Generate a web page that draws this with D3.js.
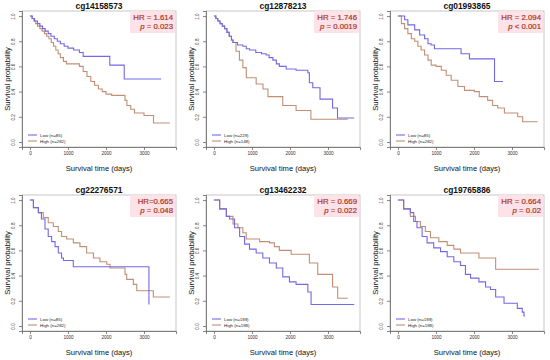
<!DOCTYPE html>
<html><head><meta charset="utf-8">
<script src="https://cdn.jsdelivr.net/npm/d3@7"></script>
<style>body{margin:0;background:#fff}svg{display:block}</style>
</head><body>
<script>
// ---- data ----
const probes = ["cg14158573","cg12878213","cg01993865","cg22276571","cg13462232","cg19765886"];
const hrLabels = ["HR = 1.614","HR = 1.746","HR = 2.094","HR=0.665","HR = 0.669","HR = 0.664"];
const pLabels = ["= 0.023","= 0.0019","< 0.001","= 0.048","= 0.022","= 0.02"];
const lowN = [85,229,85,85,189,189];
const highN = [282,148,282,282,188,188];
const xTicks = [0,1000,2000,3000];
const yTicks = [0,0.2,0.4,0.6,0.8,1.0];

// step curves: [time (days), survival after drop]; last point = end of follow-up
const low1 = [[0,1],[60,0.98],[120,0.96],[200,0.94],[260,0.92],[330,0.90],[400,0.88],[480,0.86],[550,0.84],[640,0.82],[720,0.80],[800,0.78],[900,0.76],[1000,0.745],[1150,0.73],[1300,0.71],[1400,0.68],[2100,0.61],[2480,0.50],[3450,0.50]];
const high1 = [[0,1],[50,0.98],[100,0.96],[150,0.94],[200,0.92],[260,0.90],[320,0.88],[380,0.86],[440,0.84],[500,0.82],[560,0.79],[620,0.76],[680,0.73],[740,0.70],[800,0.67],[880,0.64],[960,0.62],[1300,0.60],[1400,0.56],[1500,0.52],[1600,0.48],[1700,0.45],[1800,0.42],[1900,0.40],[2000,0.38],[2150,0.37],[2500,0.33],[2550,0.29],[2650,0.26],[2750,0.23],[3000,0.21],[3250,0.15],[3680,0.15]];
const low2 = [[0,1],[50,0.98],[100,0.96],[160,0.94],[220,0.92],[280,0.90],[340,0.87],[400,0.84],[460,0.81],[500,0.79],[620,0.77],[760,0.76],[850,0.74],[935,0.73],[1100,0.71],[1250,0.70],[1370,0.69],[1450,0.67],[1550,0.65],[1640,0.62],[1720,0.60],[1900,0.58],[2160,0.57],[2470,0.55],[2510,0.47],[2600,0.43],[2790,0.34],[3120,0.27],[3250,0.19],[3690,0.19]];
const high2 = [[0,1],[50,0.98],[100,0.96],[160,0.94],[220,0.92],[280,0.90],[340,0.87],[400,0.84],[460,0.81],[500,0.79],[580,0.72],[670,0.65],[760,0.59],[850,0.51],[1110,0.46],[1290,0.42],[1420,0.36],[1810,0.29],[2160,0.25],[2550,0.18],[3520,0.18]];
const low3 = [[0,1],[175,0.97],[260,0.93],[440,0.89],[570,0.85],[700,0.82],[790,0.78],[870,0.77],[960,0.74],[1660,0.70],[1880,0.66],[2540,0.48],[2760,0.48]];
const high3 = [[0,1],[90,0.94],[175,0.90],[260,0.86],[350,0.82],[440,0.80],[525,0.76],[610,0.73],[700,0.69],[790,0.65],[875,0.61],[1000,0.60],[1140,0.57],[1270,0.53],[1400,0.49],[1575,0.44],[1750,0.41],[2010,0.40],[2140,0.36],[2360,0.33],[2490,0.29],[2625,0.27],[2800,0.23],[3150,0.20],[3280,0.16],[3675,0.16]];
const low4 = [[0,1],[90,0.94],[220,0.90],[300,0.85],[395,0.77],[480,0.71],[570,0.67],[660,0.63],[745,0.58],[830,0.54],[880,0.52],[1140,0.47],[3130,0.17]];
const high4 = [[0,1],[90,0.94],[220,0.90],[350,0.86],[480,0.82],[615,0.79],[745,0.75],[830,0.71],[965,0.69],[1140,0.66],[1315,0.63],[1490,0.58],[1670,0.54],[1840,0.51],[2020,0.49],[2105,0.46],[2500,0.41],[2545,0.37],[2720,0.33],[2810,0.28],[3245,0.23],[3680,0.23]];
const low5 = [[0,1],[150,0.93],[325,0.87],[410,0.85],[540,0.78],[675,0.71],[805,0.65],[935,0.61],[1110,0.58],[1285,0.54],[1460,0.50],[1640,0.46],[1810,0.39],[1985,0.35],[2160,0.33],[2470,0.27],[2555,0.17],[3690,0.17]];
const high5 = [[0,1],[150,0.93],[325,0.87],[500,0.81],[630,0.78],[760,0.74],[850,0.69],[1200,0.67],[1460,0.66],[1590,0.63],[1720,0.60],[2030,0.57],[2510,0.50],[2730,0.41],[3120,0.31],[3255,0.22],[3520,0.22]];
const low6 = [[0,1],[150,0.93],[325,0.90],[415,0.83],[500,0.78],[635,0.71],[765,0.66],[940,0.62],[1120,0.59],[1295,0.55],[1470,0.51],[1645,0.48],[1775,0.41],[1910,0.38],[2130,0.35],[2305,0.31],[2435,0.29],[2570,0.23],[2790,0.18],[3140,0.14],[3270,0.11],[3315,0.08],[3340,0.08]];
const high6 = [[0,1],[150,0.93],[325,0.87],[460,0.83],[590,0.79],[720,0.75],[855,0.70],[1075,0.67],[1295,0.64],[1470,0.61],[1645,0.58],[2130,0.54],[2570,0.45],[3710,0.45]];
const lowCurves = [low1,low2,low3,low4,low5,low6];
const highCurves = [high1,high2,high3,high4,high5,high6];

// ---- drawing ----
const W = 550, H = 360;
const colLow = "#7368e6", colHigh = "#c28f76", hrCol = "#a8361f";
const svg = d3.select("body").append("svg").attr("width", W).attr("height", H)
  .style("font-family", "'Liberation Sans', Arial, sans-serif");

const colOff = [0, 184, 368], rowOff = [0, 184];
const x = d3.scaleLinear().domain([-210, 3842]).range([22, 176]);
const y = d3.scaleLinear().domain([-0.04, 1.04]).range([147, 11]);
const line = d3.line().x(d => x(d[0])).y(d => y(d[1])).curve(d3.curveStepAfter);

probes.forEach((probe, i) => {
  const g = svg.append("g").attr("transform", `translate(${colOff[i % 3]},${rowOff[Math.floor(i / 3)]})`);
  // frame
  g.append("rect").attr("x", 22).attr("y", 11).attr("width", 154).attr("height", 136)
    .attr("fill", "none").attr("stroke", "#b8b8b8").attr("stroke-width", 0.8);
  // axes
  const xa = g.append("g").attr("transform", "translate(0,147)")
    .call(d3.axisBottom(x).tickValues(xTicks).tickSize(3).tickPadding(2).tickFormat(d3.format("d")));
  const ya = g.append("g").attr("transform", "translate(22,0)")
    .call(d3.axisLeft(y).tickValues(yTicks).tickSize(3).tickPadding(2).tickFormat(d3.format(".1f")));
  [xa, ya].forEach(a => {
    a.select(".domain").attr("stroke", "#666").attr("stroke-width", 0.8);
    a.selectAll(".tick line").attr("stroke", "#666").attr("stroke-width", 0.8);
    a.selectAll("text").attr("font-size", 4.6).attr("fill", "#333").attr("font-family", "'Liberation Sans', Arial, sans-serif");
  });
  ya.selectAll(".tick text").each(function() {
    d3.select(this).attr("x", null).attr("dy", null).attr("text-anchor", "middle")
      .attr("transform", `translate(-7,0) rotate(-90)`);
  });
  // axis titles
  g.append("text").attr("x", 99).attr("y", 171).attr("text-anchor", "middle")
    .attr("font-size", 7.6).attr("fill", "#111").text("Survival time (days)");
  g.append("text").attr("transform", "translate(10,79) rotate(-90)").attr("text-anchor", "middle")
    .attr("font-size", 7.6).attr("fill", "#111").text("Survival probability");
  // title
  g.append("text").attr("x", 99).attr("y", 9).attr("text-anchor", "middle")
    .attr("font-size", 8.4).attr("font-weight", "bold").attr("fill", "#111").text(probe);
  // curves
  g.append("path").datum(highCurves[i]).attr("d", line).attr("fill", "none")
    .attr("stroke", colHigh).attr("stroke-width", 1.1);
  g.append("path").datum(lowCurves[i]).attr("d", line).attr("fill", "none")
    .attr("stroke", colLow).attr("stroke-width", 1.1);
  // HR box
  g.append("rect").attr("x", 130).attr("y", 11).attr("width", 45).attr("height", 22)
    .attr("fill", "#fde2e8");
  g.append("text").attr("x", 173).attr("y", 19.5).attr("text-anchor", "end")
    .attr("font-size", 7.8).attr("fill", hrCol).attr("stroke", hrCol).attr("stroke-width", 0.2)
    .text(hrLabels[i]);
  const pt = g.append("text").attr("x", 173).attr("y", 28.5).attr("text-anchor", "end")
    .attr("font-size", 7.8).attr("fill", hrCol).attr("stroke", hrCol).attr("stroke-width", 0.2);
  pt.append("tspan").attr("font-style", "italic").text("p");
  pt.append("tspan").text(" " + pLabels[i]);
  // legend
  const lg = [["Low (n=" + lowN[i] + ")", colLow], ["High (n=" + highN[i] + ")", colHigh]];
  lg.forEach((l, k) => {
    const yy = 135 + k * 6;
    g.append("line").attr("x1", 28).attr("x2", 37).attr("y1", yy).attr("y2", yy)
      .attr("stroke", l[1]).attr("stroke-width", 1.1);
    g.append("text").attr("x", 40).attr("y", yy + 1.6).attr("font-size", 4.4)
      .attr("fill", "#222").text(l[0]);
  });
});
</script>
</body></html>
